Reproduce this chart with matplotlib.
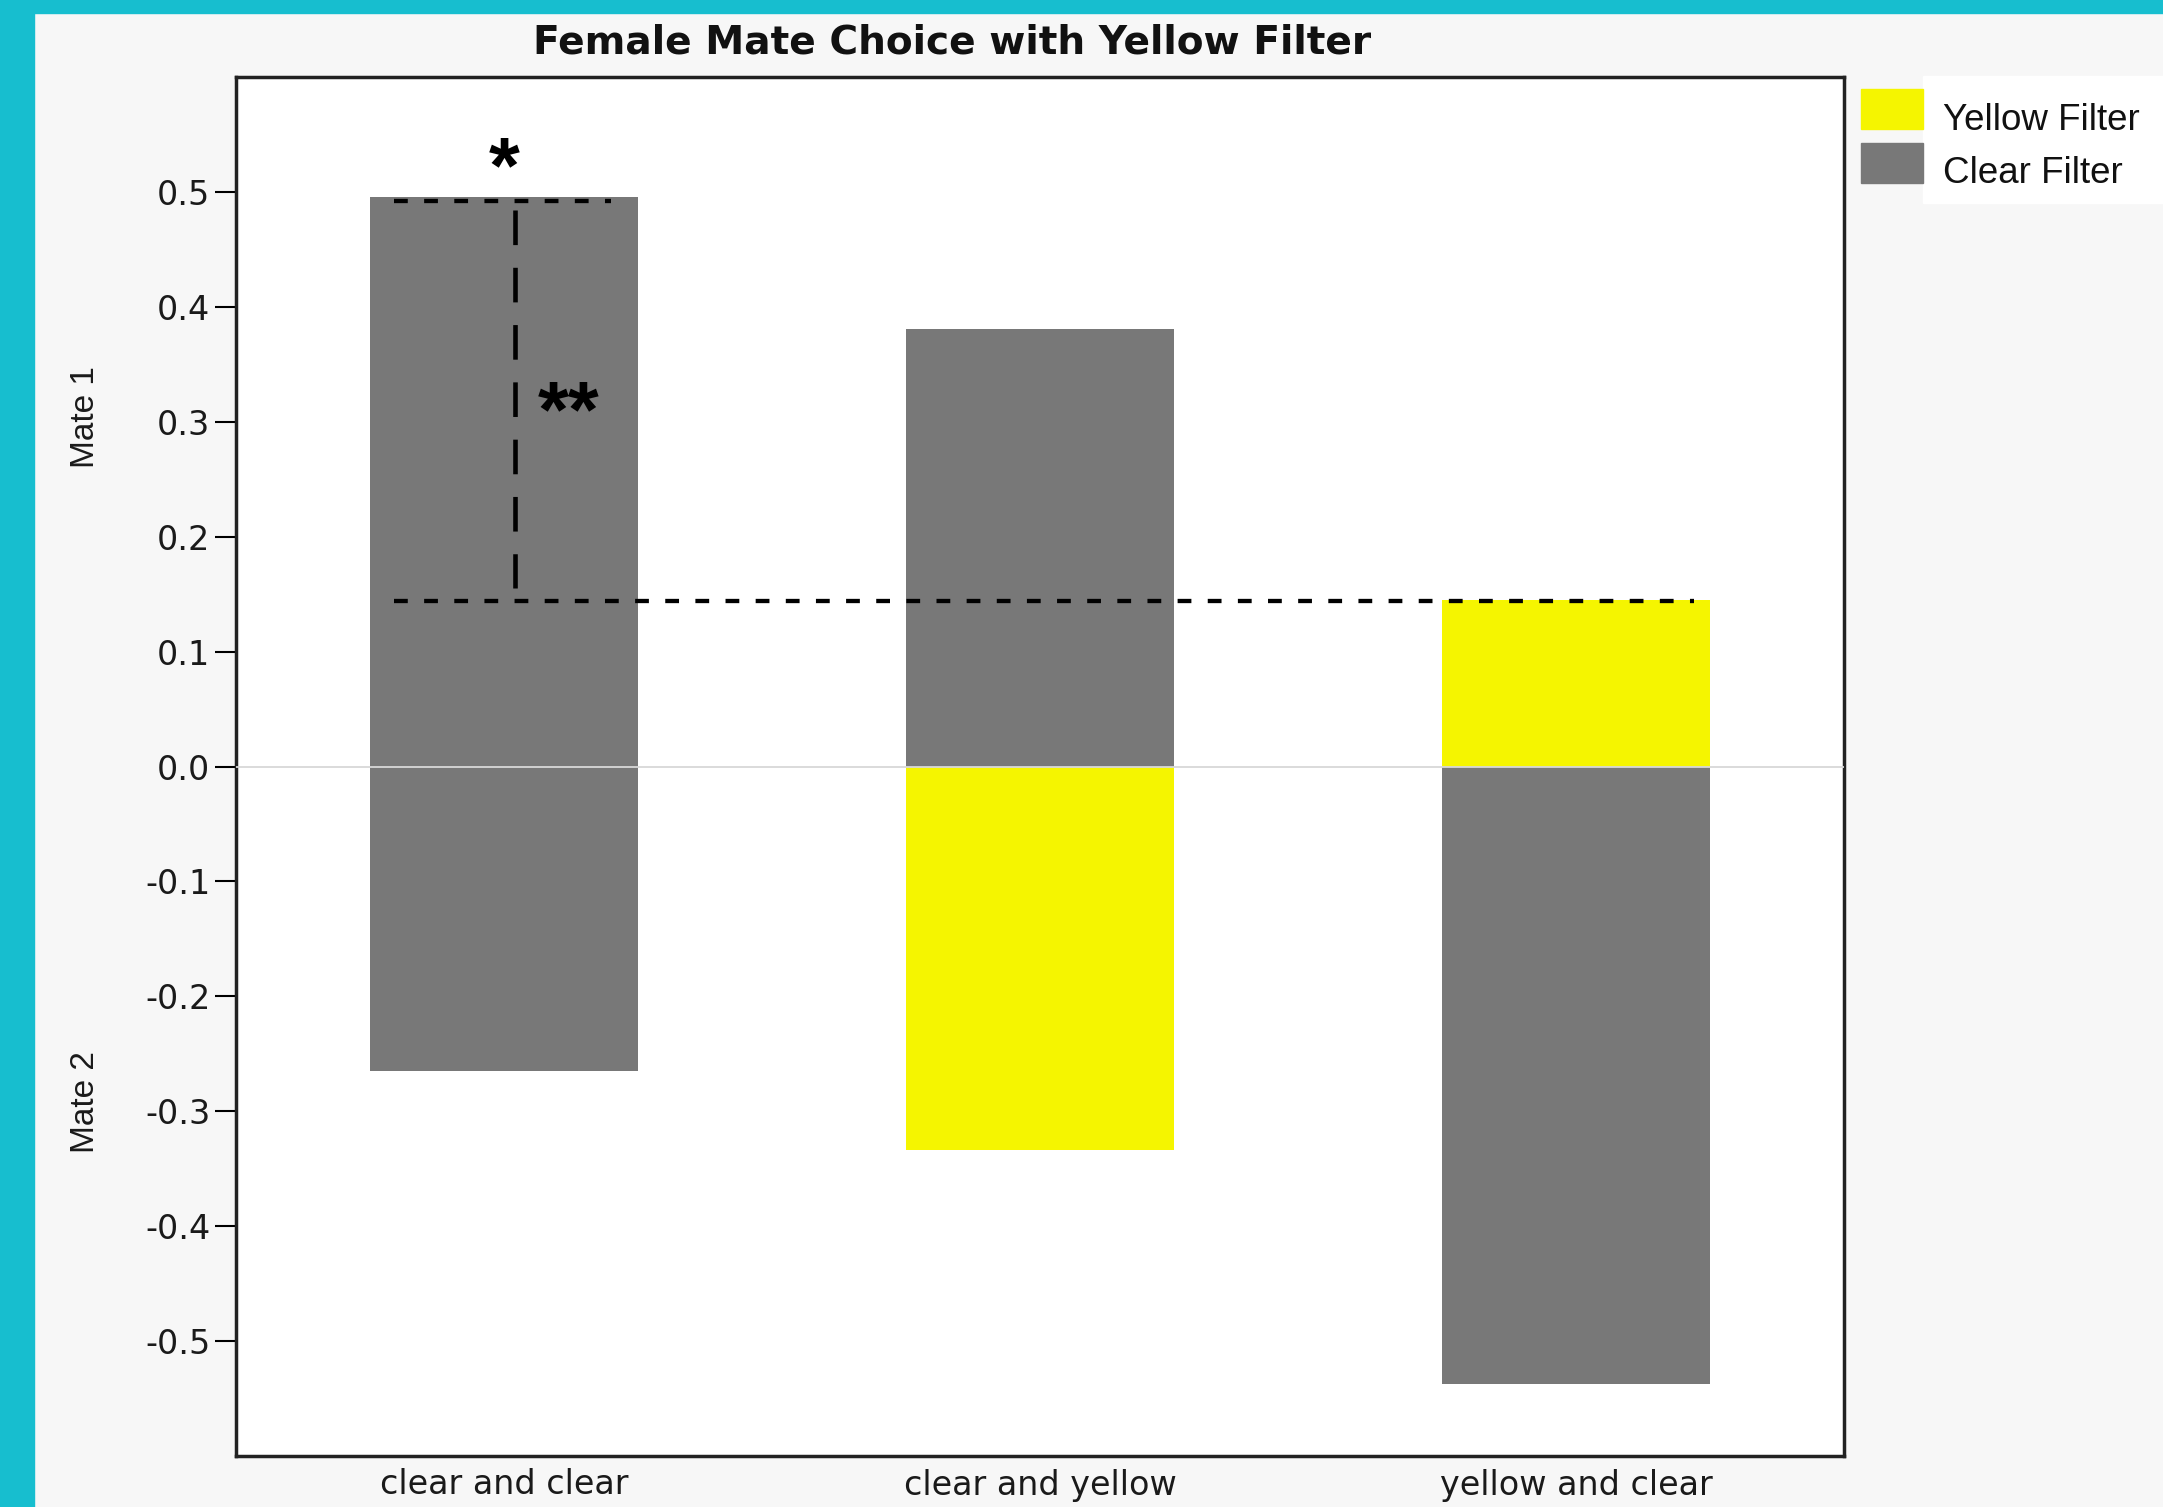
import matplotlib
matplotlib.use("Agg")
import matplotlib.pyplot as plt
from matplotlib import font_manager, transforms
from matplotlib.patches import Rectangle

# ---------------- data ----------------
categories = ['clear and clear', 'clear and yellow', 'yellow and clear']
mate1_values = [0.496, 0.381, 0.145]
mate2_values = [-0.265, -0.334, -0.537]
mate1_filter = ['Clear Filter', 'Clear Filter', 'Yellow Filter']
mate2_filter = ['Clear Filter', 'Yellow Filter', 'Clear Filter']
series = ['Yellow Filter', 'Clear Filter']
y_ticks = [0.5, 0.4, 0.3, 0.2, 0.1, 0.0, -0.1, -0.2, -0.3, -0.4, -0.5]
side_labels = ['Mate 1', 'Mate 2']
side_label_y = [0.304, -0.292]
title = 'Female Mate Choice with Yellow Filter'
# significance annotation levels
sig_top = 0.492
sig_base = 0.144
sig_vert = [0.484, 0.155]

colors = {'Yellow Filter': '#f5f500', 'Clear Filter': '#787878'}
W, H = 2163, 1507

plt.rcParams['axes.unicode_minus'] = False

def has_font(name):
    try:
        font_manager.findfont(font_manager.FontProperties(family=name), fallback_to_default=False)
        return True
    except Exception:
        return False

narrow = has_font('Liberation Sans Narrow')

fig = plt.figure(figsize=(W / 100, H / 100), dpi=100, facecolor='#f7f7f7')
# teal frame
fig.patches.append(Rectangle((0, 0), 34 / W, 1, transform=fig.transFigure, color='#17becf', zorder=0))
fig.patches.append(Rectangle((0, 1 - 13 / H), 1, 13 / H, transform=fig.transFigure, color='#17becf', zorder=0))

ax = fig.add_axes([236 / W, 1 - 1456 / H, (1844 - 236) / W, (1456 - 77) / H])
ax.set_facecolor('white')

x = list(range(len(categories)))
ax.bar(x, mate1_values, width=0.5, color=[colors[f] for f in mate1_filter], zorder=2)
ax.bar(x, mate2_values, width=0.5, color=[colors[f] for f in mate2_filter], zorder=2)
ax.axhline(0, color='#d8d8d8', lw=1.3, zorder=3)

ax.set_xlim(-0.5, 2.5)
ax.set_ylim(-0.6, 0.6)
ax.set_yticks(y_ticks)
ax.set_yticklabels(['%.1f' % v for v in y_ticks])
ax.set_xticks(x)
ax.set_xticklabels(categories)
ax.tick_params(axis='y', length=15, width=1.5, pad=3.5, labelsize=24, labelcolor='#1a1a1a')
ax.tick_params(axis='x', length=0, pad=9, labelsize=24, labelcolor='#1a1a1a')
for lab in ax.get_xticklabels() + ax.get_yticklabels():
    lab.set_family('DejaVu Sans')
for s in ax.spines.values():
    s.set_linewidth(2.5)
    s.set_color('#222222')

# significance lines
dash_h = (0, (3.2, 3.8))
ax.plot([x[0] - 0.206, x[0] + 0.2], [sig_top, sig_top], color='black', lw=3.1, ls=dash_h, zorder=4)
ax.plot([x[0] - 0.206, x[2] + 0.22], [sig_base, sig_base], color='black', lw=3.1, ls=dash_h, zorder=4)
ax.plot([x[0] + 0.02, x[0] + 0.02], sig_vert, color='black', lw=3.3, ls=(0, (7.55, 4.95)), zorder=4)
ax.text(x[0], 0.500, '*', ha='center', va='baseline', fontsize=57, fontweight='bold',
        family='Liberation Sans', zorder=5)
ax.text(x[0] + 0.121, 0.2875, '**', ha='center', va='baseline', fontsize=57, fontweight='bold',
        family='Liberation Sans', zorder=5)

# side labels
bt = transforms.blended_transform_factory(fig.transFigure, ax.transData)
for lab, yy in zip(side_labels, side_label_y):
    if narrow:
        ax.text(85 / W, yy, lab, transform=bt, rotation=90, ha='center', va='center',
                fontsize=29, family='Liberation Sans Narrow', color='#1a1a1a')
    else:
        ax.text(85 / W, yy, lab, transform=bt, rotation=90, ha='center', va='center',
                fontsize=24, family='Liberation Sans', color='#1a1a1a')

# title
fig.text(952 / W, 1 - 53 / H, title, ha='center', va='baseline', fontsize=28.2,
         fontweight='bold', family='DejaVu Sans', color='#111111')

# legend (manual)
fig.patches.append(Rectangle((1923 / W, 1 - 203 / H), 1 - 1923 / W, 127 / H,
                             transform=fig.transFigure, color='white', zorder=1))
leg_tops = [89, 143]
leg_base = [130, 183]
for name, top, base in zip(series, leg_tops, leg_base):
    fig.patches.append(Rectangle((1861 / W, 1 - (top + 40) / H), 62 / W, 40 / H,
                                 transform=fig.transFigure, color=colors[name], zorder=2))
    fig.text(1943 / W, 1 - base / H, name, ha='left', va='baseline', fontsize=26.5,
             family='Liberation Sans', color='#111111', zorder=3)

fig.savefig('out.png', dpi=100, facecolor=fig.get_facecolor())
